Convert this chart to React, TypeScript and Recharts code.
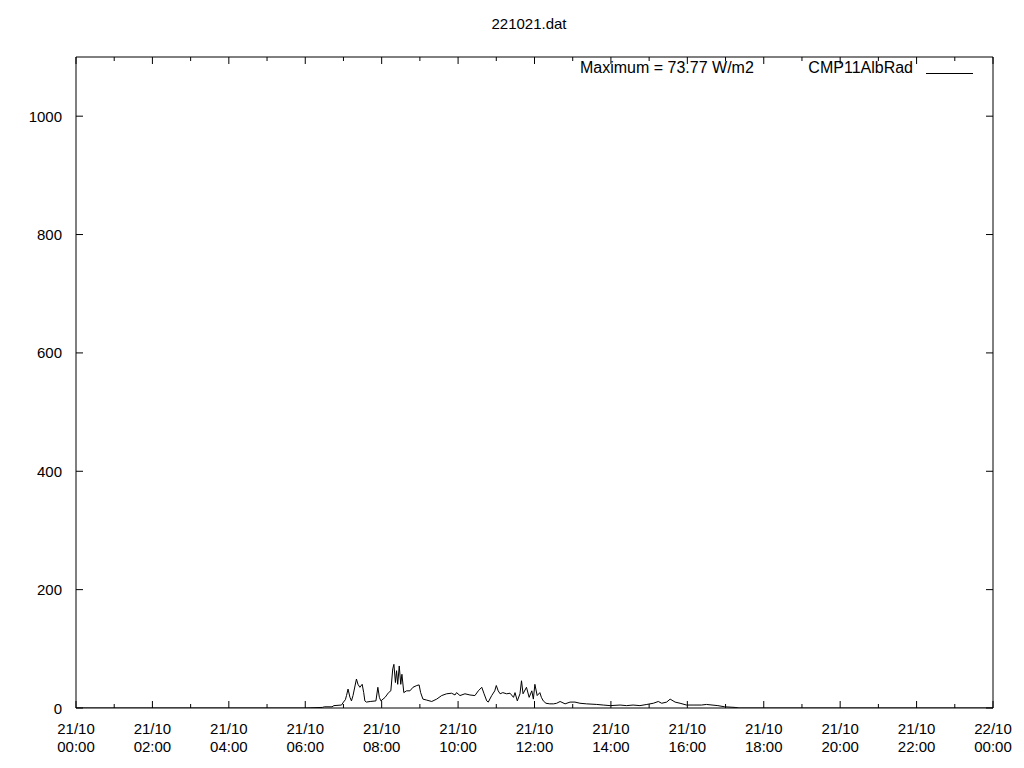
import React from "react";
import { LineChart, Line, XAxis, YAxis } from "recharts";

const hours: number[] = [
  0, 6.0, 6.45, 6.5, 6.7, 6.75, 6.95, 7.0, 7.05, 7.08, 7.12, 7.17, 7.21, 7.25, 7.34, 7.38, 7.43, 7.49, 7.53, 7.56,
  7.6, 7.7, 7.85, 7.9, 7.94, 7.98, 8.09, 8.18, 8.24, 8.29, 8.32, 8.36, 8.39, 8.42, 8.46, 8.5, 8.53, 8.58, 8.65, 8.74,
  8.82, 8.92, 8.98, 9.02, 9.08, 9.17, 9.31, 9.44, 9.57, 9.7, 9.83, 9.92, 9.96, 10.05, 10.18, 10.31, 10.44, 10.53, 10.62, 10.68,
  10.75, 10.79, 10.88, 10.96, 11.0, 11.05, 11.1, 11.17, 11.27, 11.36, 11.45, 11.49, 11.55, 11.62, 11.66, 11.7, 11.79, 11.86, 11.93, 11.97,
  12.01, 12.07, 12.14, 12.18, 12.23, 12.3, 12.4, 12.5, 12.58, 12.67, 12.8, 12.93, 13.06, 13.19, 13.36, 13.63, 13.8, 13.98, 14.24, 14.41,
  14.58, 14.76, 14.94, 15.11, 15.24, 15.33, 15.46, 15.55, 15.68, 15.81, 15.98, 16.15, 16.37, 16.5, 16.8, 16.98, 17.25, 17.35, 24,
];

const radiation: number[] = [
  0, 0, 1, 2, 2, 4, 5, 10, 14, 21, 32, 18, 12, 21, 49, 40, 35, 40, 26, 12,
  10, 11, 12, 35, 18, 12, 18, 26, 29, 66, 73.77, 43, 63, 40, 71, 40, 57, 26, 29, 29,
  35, 38, 39, 26, 15, 13.5, 11, 15, 21, 24, 25, 22, 26, 21, 24, 22, 21, 29, 35, 24,
  12, 10, 21, 29, 38, 29, 24, 26, 24, 25, 18, 26, 12, 24, 46, 24, 35, 18, 29, 15,
  40, 21, 26, 18, 12, 8, 7, 7, 8, 11, 7, 10, 10, 8, 7, 6, 5, 4, 5, 4,
  5, 4, 6, 8, 11, 8, 10, 15, 10, 8, 5, 5, 5, 6, 4, 2, 1, 0, 0,
];

const hourTicks: number[] = Array.from({ length: 25 }, (_, i) => i);
const valueTicks: number[] = [0, 200, 400, 600, 800, 1000];
const dateLabels: string[] = ["21/10", "22/10"];

const title = "221021.dat";
const seriesName = "CMP11AlbRad";

const data = hours.map((h, i) => ({ h, v: radiation[i] }));
const maxValue = Math.max(...radiation);

const FONT = "'Liberation Sans', Arial, sans-serif";
const FS = 15;

const BottomTick = (props: any) => {
  const { x, y, payload } = props;
  const h = payload.value as number;
  const major = h % 2 === 0;
  const hh = String(h % 24).padStart(2, "0");
  return (
    <g>
      <line x1={x} x2={x} y1={y} y2={y - (major ? 7 : 4)} stroke="#000" strokeWidth={1} />
      {major && (
        <text x={x} y={y} textAnchor="middle" fill="#000" fontFamily={FONT} fontSize={FS}>
          <tspan x={x} y={y + 26}>{h === 24 ? dateLabels[1] : dateLabels[0]}</tspan>
          <tspan x={x} y={y + 44}>{`${hh}:00`}</tspan>
        </text>
      )}
    </g>
  );
};

const TopTick = (props: any) => {
  const { x, y, payload } = props;
  const h = payload.value as number;
  const major = h % 2 === 0;
  return <line x1={x} x2={x} y1={y} y2={y + (major ? 7 : 4)} stroke="#000" strokeWidth={1} />;
};

const LeftTick = (props: any) => {
  const { x, y, payload } = props;
  return (
    <g>
      <line x1={x} x2={x + 7} y1={y} y2={y} stroke="#000" strokeWidth={1} />
      <text x={x - 14} y={y} textAnchor="end" dominantBaseline="central" fill="#000" fontFamily={FONT} fontSize={FS}>
        {payload.value}
      </text>
    </g>
  );
};

const RightTick = (props: any) => {
  const { x, y } = props;
  return <line x1={x} x2={x - 7} y1={y} y2={y} stroke="#000" strokeWidth={1} />;
};

export default function App() {
  return (
    <div style={{ position: "absolute", left: 0, top: 0, width: 1024, height: 768, background: "#fff" }}>
      <LineChart width={1024} height={768} data={data} margin={{ top: 56, right: 30, bottom: 0, left: 0 }}>
        <XAxis
          xAxisId="bottom"
          dataKey="h"
          type="number"
          domain={[0, 24]}
          ticks={hourTicks}
          interval={0}
          orientation="bottom"
          height={60}
          tickSize={0}
          tickMargin={0}
          tickLine={false}
          axisLine={{ stroke: "#000", strokeWidth: 1 }}
          tick={<BottomTick />}
          allowDataOverflow
        />
        <XAxis
          xAxisId="top"
          dataKey="h"
          type="number"
          domain={[0, 24]}
          ticks={hourTicks}
          interval={0}
          orientation="top"
          height={1}
          tickSize={0}
          tickMargin={0}
          tickLine={false}
          axisLine={{ stroke: "#000", strokeWidth: 1 }}
          tick={<TopTick />}
          allowDataOverflow
        />
        <YAxis
          yAxisId="left"
          type="number"
          domain={[0, 1100]}
          ticks={valueTicks}
          interval={0}
          orientation="left"
          width={76}
          tickSize={0}
          tickMargin={0}
          tickLine={false}
          axisLine={{ stroke: "#000", strokeWidth: 1 }}
          tick={<LeftTick />}
          allowDataOverflow
        />
        <YAxis
          yAxisId="right"
          type="number"
          domain={[0, 1100]}
          ticks={valueTicks}
          interval={0}
          orientation="right"
          width={1}
          tickSize={0}
          tickMargin={0}
          tickLine={false}
          axisLine={{ stroke: "#000", strokeWidth: 1 }}
          tick={<RightTick />}
          allowDataOverflow
        />
        <Line
          xAxisId="top"
          yAxisId="right"
          dataKey="v"
          type="linear"
          stroke="none"
          dot={false}
          activeDot={false}
          isAnimationActive={false}
        />
        <Line
          xAxisId="bottom"
          yAxisId="left"
          dataKey="v"
          name={seriesName}
          type="linear"
          stroke="#000"
          strokeWidth={1}
          dot={false}
          activeDot={false}
          isAnimationActive={false}
        />
      </LineChart>
      <div
        style={{
          position: "absolute",
          left: 429,
          width: 200,
          top: 15,
          textAlign: "center",
          fontFamily: FONT,
          fontSize: FS,
          lineHeight: "18px",
          color: "#000",
        }}
      >
        {title}
      </div>
      <div
        style={{
          position: "absolute",
          left: 580,
          top: 59,
          fontFamily: FONT,
          fontSize: 16,
          lineHeight: "18px",
          color: "#000",
          whiteSpace: "nowrap",
        }}
      >
        {`Maximum = ${maxValue.toFixed(2)} W/m2`}
      </div>
      <div
        style={{
          position: "absolute",
          right: 1024 - 913,
          top: 59,
          fontFamily: FONT,
          fontSize: 16,
          lineHeight: "18px",
          color: "#000",
          whiteSpace: "nowrap",
        }}
      >
        {seriesName}
      </div>
      <div style={{ position: "absolute", left: 926, top: 73, width: 47, height: 0, borderTop: "1px solid #000" }} />
    </div>
  );
}
